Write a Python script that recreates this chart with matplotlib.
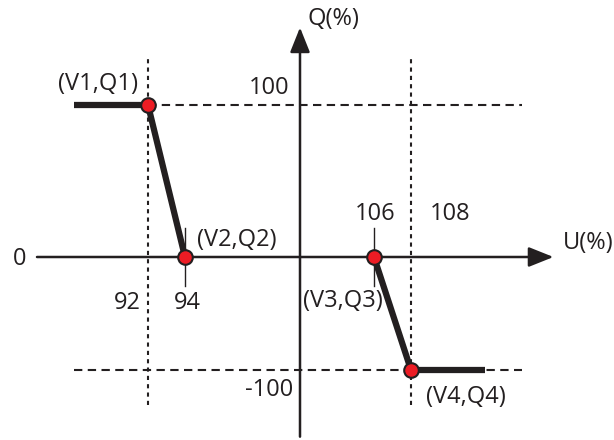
import numpy as np
import matplotlib
matplotlib.use('Agg')
import matplotlib.pyplot as plt

plt.rcParams['font.family'] = ['Open Sans', 'DejaVu Sans']

# volt-var characteristic points
V = [92, 94, 106, 108]
Q = [100, 0, 0, -100]
point_labels = ['(V1,Q1)', '(V2,Q2)', '(V3,Q3)', '(V4,Q4)']
u_start, u_end = 88, 112          # flat parts of the curve
grid_u = [92, 108]
grid_q = [100, -100]
u_ticks = ['92', '94', '106', '108']

ink = '#231f20'
red = '#ed1c24'

# the sketch is not drawn to scale, so use a piecewise scale
ux = [80, 92, 94, 100, 106, 108, 120]
px = [-74, 148, 185, 300, 374, 411, 633]
qy = [-200, -100, 0, 100, 200]
py = [-226, -113, 0, 152, 304]

def fx(u): return np.interp(u, ux, px)
def ix(p): return np.interp(p, px, ux)
def fy(q): return np.interp(q, qy, py)
def iy(p): return np.interp(p, py, qy)

fig = plt.figure(figsize=(6.14, 4.40), dpi=100)
ax = fig.add_axes([0, 0, 1, 1])
ax.set_xscale('function', functions=(fx, ix))
ax.set_yscale('function', functions=(fy, iy))
ax.set_xlim(ix(0), ix(614))
ax.set_ylim(iy(-183), iy(257))
ax.axis('off')

# dashed / dotted guide lines
ax.plot([92, 114], [100, 100], color=ink, lw=1.5, ls=(0, (4, 2.6)))
ax.plot([88, 114], [-100, -100], color=ink, lw=1.5, ls=(0, (4, 2.6)))
for u in grid_u:
    ax.plot([u, u], [-131, 130], color=ink, lw=1.5, ls=(0, (2, 2)))

# axes with arrows
arrow = dict(arrowstyle='-|>,head_length=0.95,head_width=0.38', color=ink,
             lw=1.8, mutation_scale=16, shrinkA=0, shrinkB=0)
ax.annotate('', xy=(115.7, 0), xytext=(86, 0), arrowprops=arrow)
ax.annotate('', xy=(100, 151), xytext=(100, -159), arrowprops=arrow)

# small ticks at V2 and V3
for u in [94, 106]:
    ax.plot([u, u], [-26, 19], color=ink, lw=1.0)

# curve
ax.plot([u_start, V[0], V[1]], [Q[0], Q[0], Q[1]], color=ink, lw=4.5,
        solid_capstyle='butt', solid_joinstyle='round')
ax.plot([V[2], V[3], u_end], [Q[2], Q[3], Q[3]], color=ink, lw=4.5,
        solid_capstyle='butt', solid_joinstyle='round')
ax.plot(V, Q, 'o', ms=10.5, mfc=red, mec=ink, mew=1.5, zorder=5)

fs = 17
lab_off = [(-50, 21), (52, 17), (-31, -44), (55, -27)]
for u, q, t, off in zip(V, Q, point_labels, lab_off):
    ax.annotate(t, (u, q), xytext=off, textcoords='offset pixels',
                ha='center', va='center', fontsize=fs, color=ink)

tick_off = [(-21, -46), (2, -46), (1, 43), (39, 43)]
for u, t, off in zip(V, u_ticks, tick_off):
    ax.annotate(t, (u, 0), xytext=off, textcoords='offset pixels',
                ha='center', va='center', fontsize=fs, color=ink)

ax.annotate('100', (100, 100), xytext=(-31, 17), textcoords='offset pixels',
            ha='center', va='center', fontsize=fs, color=ink)
ax.annotate('-100', (100, -100), xytext=(-31, -20), textcoords='offset pixels',
            ha='center', va='center', fontsize=fs, color=ink)
ax.annotate('0', (86, 0), xytext=(-17, -2), textcoords='offset pixels',
            ha='center', va='center', fontsize=fs, color=ink)
ax.annotate('U(%)', (115.7, 0), xytext=(35, 14), textcoords='offset pixels',
            ha='center', va='center', fontsize=fs, color=ink)
ax.annotate('Q(%)', (100, 151), xytext=(33, 8), textcoords='offset pixels',
            ha='center', va='center', fontsize=fs, color=ink)

fig.savefig('out.png', dpi=100)
